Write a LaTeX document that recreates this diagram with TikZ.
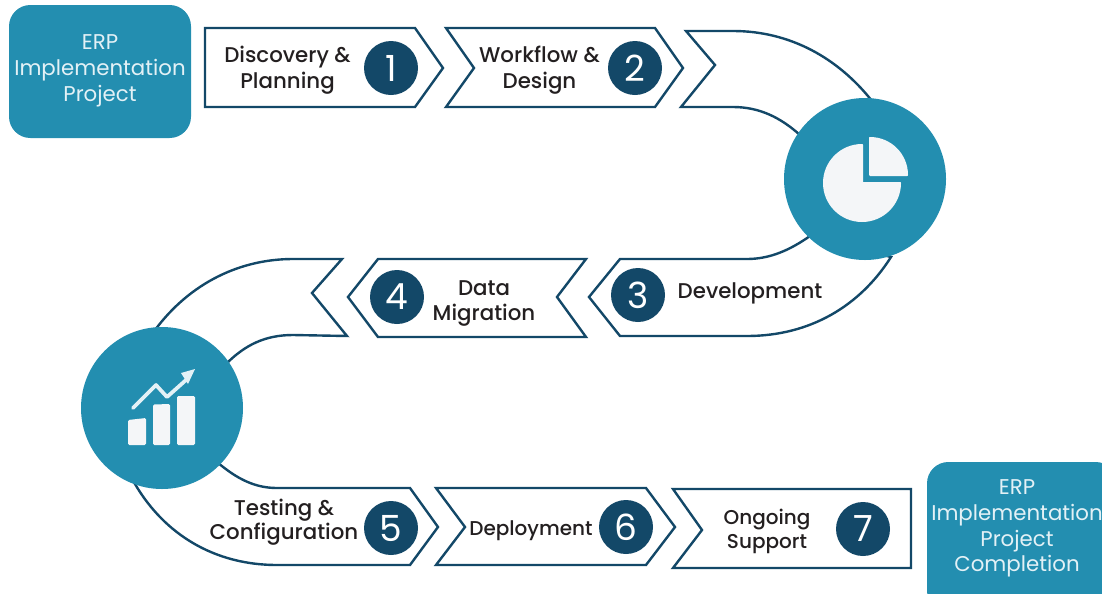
\documentclass[tikz,border=0pt]{standalone}
\usepackage{fontspec}
\setmainfont{Poppins}
\newfontfamily\medfont{Poppins Medium}
\definecolor{teal1}{HTML}{238EB0}
\definecolor{navy1}{HTML}{134868}
\definecolor{ink1}{HTML}{231F20}
\definecolor{pale1}{HTML}{F4F6F8}
\definecolor{palet}{HTML}{E3F1F6}
\tikzset{
  outline/.style={draw=navy1,line width=1.8pt,line join=miter,fill=white},
  label/.style={text=ink1,font=\medfont\fontsize{16}{19.4}\selectfont,align=center,inner sep=0pt},
  labeltight/.style={label,font=\medfont\fontsize{16}{18.4}\selectfont},
  labelsmall/.style={label,font=\medfont\fontsize{15}{18}\selectfont},
  numdisc/.style={circle,fill=navy1,text=white,minimum size=40.5pt,inner sep=0pt,font=\fontsize{27}{27}\selectfont},
  hub/.style={circle,fill=teal1,minimum size=121.5pt,inner sep=0pt},
  endbox/.style={fill=teal1,rounded corners=16pt},
  endlabel/.style={text=palet,font=\fontsize{16}{19.4}\selectfont,align=center,inner sep=0pt},
  icon/.style={fill=pale1,draw=none},
  roundicon/.style={fill=pale1,draw=pale1,line width=1.5pt,line join=round}
}
\begin{document}
\begin{tikzpicture}[x=0.75pt,y=-0.75pt]
\useasboundingbox (0,0) rectangle (1102,593);
% blue boxes
\path[endbox] (9,5) rectangle (191,138);
\node[endlabel] (start) at (100,70.5) {ERP\\Implementation\\Project};
\begin{scope}
\clip (0,0) rectangle (1102,593);
\path[endbox] (927,462) rectangle (1117,612);
\end{scope}
\node[endlabel] (finish) at (1017,528.5) {ERP\\Implementation\\Project\\Completion};
% top row
\draw[outline] (205,28) -- (415,28) -- (443,68) -- (415,107) -- (205,107) -- cycle;
\draw[outline] (446,28) -- (655,28) -- (683,68) -- (655,107) -- (446,107) -- (474,68) -- cycle;
\draw[outline] (686,31) -- (733,31) .. controls (790,31) and (838,58) .. (872,101)
   -- (800,135) .. controls (781,118) and (760,107) .. (733,107) -- (681,107) -- (715,65) -- cycle;
% middle row
\draw[outline] (378,259) -- (586,259) -- (557,297) -- (586,337) -- (378,337) -- (348,297) -- cycle;
\draw[outline] (891,257) .. controls (860,306) and (810,336) .. (747,336) -- (620,336) -- (589,297) -- (620,259)
   -- (747,259) .. controls (770,259) and (790,250) .. (810,236) -- cycle;
\draw[outline] (342,259) -- (293,259) .. controls (240,259) and (190,283) .. (155,330)
   -- (226,364) .. controls (245,345) and (265,335) .. (293,335) -- (347,336) -- (312,293) -- cycle;
% bottom row
\draw[outline] (135,484) .. controls (165,535) and (215,565) .. (277,565) -- (410,565) -- (438,527) -- (410,488)
   -- (277,488) .. controls (255,488) and (237,479) .. (217,462) -- cycle;
\draw[outline] (436,488) -- (646,488) -- (675,527) -- (646,565) -- (436,565) -- (465,527) -- cycle;
\draw[outline] (673,489) -- (911,489) -- (911,568) -- (673,568) -- (702,530) -- cycle;
% hubs
\node[hub] (hubA) at (865,179) {};
\node[hub] (hubB) at (162,408) {};
% pie icon
\path[roundicon] (862,145) -- (862,183) -- (900,183) arc[start angle=0,end angle=270,radius=38] -- cycle;
\path[roundicon] (870,138) arc[start angle=-90,end angle=0,radius=37] -- (870,175) -- cycle;
% chart icon
\path[icon,rounded corners=1pt] (128,420) -- (146,418) -- (146,445) -- (128,445) -- cycle;
\path[icon,rounded corners=1pt] (153,404.5) -- (170,404) -- (170,445) -- (153,445) -- cycle;
\path[icon,rounded corners=1pt] (177,396) -- (195,396) -- (195,445) -- (177,445) -- cycle;
\draw[palet,line width=2.8pt,line cap=round,line join=round] (133,408) -- (156,385) -- (167,397) -- (186,380);
\path[fill=palet] (195,369) -- (181,373) -- (188,384) -- cycle;
% labels
\node[label] (t1) at (287.5,70.5) {Discovery \&\\Planning};
\node[numdisc] (n1) at (391,68) {1};
\node[label] (t2) at (539.5,70.5) {Workflow \&\\Design};
\node[numdisc] (n2) at (635,68) {2};
\node[numdisc] (n3) at (638,295) {3};
\node[label] (t3) at (750,293) {Development};
\node[numdisc] (n4) at (397,297) {4};
\node[label] (t4) at (484,303.5) {Data\\Migration};
\node[labeltight] (t5) at (284,522) {Testing \&\\Configuration};
\node[numdisc] (n5) at (391,528) {5};
\node[labelsmall] (t6) at (531,531) {Deployment};
\node[numdisc] (n6) at (626,527) {6};
\node[labelsmall] (t7) at (767,531) {Ongoing\\Support};
\node[numdisc] (n7) at (863,529) {7};
\end{tikzpicture}
\end{document}
